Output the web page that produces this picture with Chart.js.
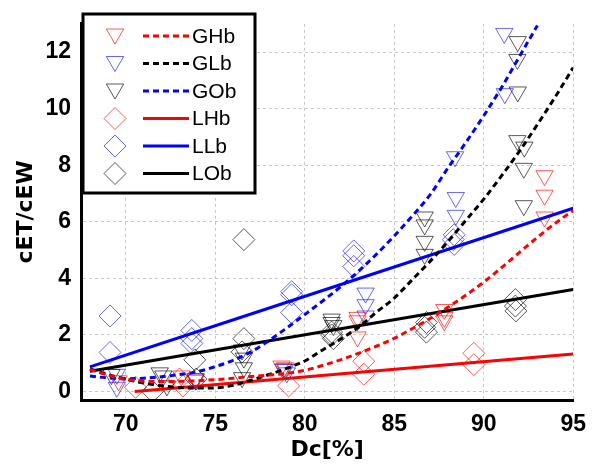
<!DOCTYPE html>
<html>
<head>
<meta charset="utf-8">
<script src="https://cdn.jsdelivr.net/npm/chart.js@4.4.1/dist/chart.umd.min.js"></script>
<style>
  html, body { margin: 0; padding: 0; background: #fff; }
  #contenedor { width: 597px; height: 464px; }
</style>
</head>
<body>
<div id="contenedor"><canvas id="grafico" width="597" height="464"></canvas></div>
<script>
// ticks de los ejes
const ticksX = [70, 75, 80, 85, 90, 95]
const ticksY = [0, 2, 4, 6, 8, 10, 12]

// mediciones [Dc, cET/cEW]
const puntosGHb = [[69.6,0.38],[73.1,0.55],[73.9,0.45],[78.7,0.9],[78.9,0.84],[82.95,2.62],[82.95,2.5],[82.95,1.93],
  [87.8,2.9],[87.8,2.62],[87.8,2.5],[93.4,7.63],[93.4,6.94],[93.4,6.17]]
const puntosGLb = [[69.5,0.61],[69.5,0.15],[73.9,0.4],[78.9,0.78],[79.0,0.66],[83.4,3.48],[83.4,3.07],[83.4,2.67],
  [88.4,8.3],[88.44,6.86],[88.44,6.23],[91.15,12.66],[91.18,10.53]]
const puntosGOb = [[69.2,0.6],[71.9,0.66],[72.1,0.55],[72.3,0.2],[73.9,0.45],[76.5,1.47],[76.6,1.18],[76.6,0.84],
  [76.5,0.49],[78.8,0.8],[81.5,2.56],[81.5,2.44],[81.6,2.33],[86.7,6.17],[86.7,5.89],[86.7,5.31],[86.7,4.85],
  [91.9,12.37],[91.88,11.74],[91.9,10.59],[91.88,8.87],[92.27,8.64],[92.24,7.89],[92.24,6.57]]
const puntosLHb = [[70.55,0.15],[73.0,0.44],[73.2,0.2],[79.1,0.2],[83.3,1.07],[83.3,0.61],[89.45,1.35],[89.45,0.95]]
const puntosLLb = [[69.12,2.67],[69.12,1.38],[73.69,2.16],[73.69,1.87],[73.69,1.7],[79.27,3.53],[79.27,3.42],[79.27,2.79],
  [82.74,4.97],[82.74,4.8],[82.74,4.42],[88.35,5.54],[88.3,5.37],[88.35,5.2]]
const puntosLOb = [[71.5,0.0],[73.86,1.12],[73.93,0.44],[76.6,5.37],[76.6,1.87],[76.5,1.4],[81.5,2.1],[81.6,1.87],[81.5,2.0],
  [86.8,2.44],[86.7,2.27],[86.8,2.1],[91.77,3.25],[91.77,3.02],[91.8,2.85]]

// curvas de ajuste
const curvaGHb = [[68,0.78],[69,0.58],[70,0.43],[71,0.37],[72,0.35],[73,0.36],[74,0.38],[75,0.42],[76,0.47],[77,0.53],
  [78,0.58],[79,0.64],[80,0.75],[81,0.92],[82,1.12],[83,1.35],[84,1.6],[85,1.88],[86,2.22],[87,2.58],[88,2.98],
  [89,3.4],[90,3.87],[91,4.38],[92,4.92],[93,5.45],[94,5.95],[95,6.4]]
const curvaGLb = [[68,0.8],[69,0.6],[70,0.44],[71,0.3],[72,0.2],[73,0.14],[74,0.12],[75,0.13],[76,0.22],[77,0.4],
  [78,0.6],[79,0.82],[80,1.08],[81,1.47],[82,1.85],[83,2.27],[84,2.8],[85,3.3],[86,3.95],[87,4.6],[88,5.3],
  [89,6.05],[90,6.8],[91,7.63],[92,8.5],[93,9.44],[94,10.42],[95,11.45]]
const curvaGOb = [[68,0.55],[69,0.48],[70,0.45],[71,0.47],[72,0.52],[73,0.6],[74,0.7],[75,0.88],[76,1.1],[77,1.4],
  [78,1.8],[79,2.25],[80,2.72],[81,3.2],[82,3.7],[83,4.25],[84,4.85],[85,5.5],[86,6.2],[87,6.95],[88,7.9],
  [89,8.8],[90,9.75],[91,10.75],[92,11.85],[93,12.94]]
const rectaLHb = [[70.5,0.0],[95,1.33]]
const rectaLLb = [[68,0.87],[95,6.48]]
const rectaLOb = [[68,0.72],[95,3.61]]

const rojo = '#ff0000', azul = '#0000ff', negro = '#000000'
const rojoClaro = 'rgba(255,0,0,0.65)', azulClaro = 'rgba(0,0,255,0.6)', gris = 'rgba(0,0,0,0.65)'
const guiones = [6, 4]

const aXY = (pares) => pares.map(([x, y]) => ({ x: x, y: y }))

const marca = (label, datos, color, forma) => ({
  label: label,
  data: aXY(datos),
  showLine: false,
  pointStyle: forma,
  pointRotation: forma === 'triangle' ? 180 : 0,
  pointRadius: forma === 'triangle' ? 10 : 11,
  pointBorderWidth: 1,
  pointBorderColor: color,
  pointBackgroundColor: 'rgba(0,0,0,0)',
})

const linea = (label, datos, color, discontinua) => ({
  label: label,
  data: aXY(datos),
  showLine: true,
  pointRadius: 0,
  borderColor: color,
  borderWidth: 3,
  borderDash: discontinua ? guiones : [],
  cubicInterpolationMode: 'monotone',
})

// filas de la leyenda: marca + linea
const filasLeyenda = [
  { texto: 'GHb', forma: 'triangle', colorMarca: rojoClaro, colorLinea: rojo, discontinua: true },
  { texto: 'GLb', forma: 'triangle', colorMarca: azulClaro, colorLinea: negro, discontinua: true },
  { texto: 'GOb', forma: 'triangle', colorMarca: gris, colorLinea: azul, discontinua: true },
  { texto: 'LHb', forma: 'rectRot', colorMarca: rojoClaro, colorLinea: rojo, discontinua: false },
  { texto: 'LLb', forma: 'rectRot', colorMarca: azulClaro, colorLinea: azul, discontinua: false },
  { texto: 'LOb', forma: 'rectRot', colorMarca: gris, colorLinea: negro, discontinua: false },
]

const leyenda = {
  id: 'leyenda',
  afterDraw(chart) {
    const ctx = chart.ctx
    ctx.save()
    ctx.fillStyle = '#fff'
    ctx.fillRect(83, 14, 172, 179)
    ctx.lineWidth = 3
    ctx.strokeStyle = '#000'
    ctx.setLineDash([])
    ctx.strokeRect(83, 14, 172, 179)

    filasLeyenda.forEach((f, i) => {
      const y = 36 + i * 27.5
      ctx.strokeStyle = f.colorMarca
      ctx.fillStyle = 'rgba(0,0,0,0)'
      ctx.lineWidth = 1
      ctx.setLineDash([])
      Chart.helpers.drawPoint(ctx, {
        pointStyle: f.forma,
        radius: f.forma === 'triangle' ? 10 : 11,
        rotation: f.forma === 'triangle' ? 180 : 0,
        borderWidth: 1,
      }, 115, f.forma === 'triangle' ? y - 2 : y)

      ctx.beginPath()
      ctx.strokeStyle = f.colorLinea
      ctx.lineWidth = 3
      ctx.setLineDash(f.discontinua ? guiones : [])
      ctx.moveTo(143, y)
      ctx.lineTo(189, y)
      ctx.stroke()

      ctx.setLineDash([])
      ctx.fillStyle = '#000'
      ctx.font = '21px "Liberation Sans", Arial, sans-serif'
      ctx.textAlign = 'left'
      ctx.textBaseline = 'middle'
      ctx.fillText(f.texto, 192, y + 1)
    })
    ctx.restore()
  }
}

const fuenteTicks = { family: '"Liberation Sans", Arial, sans-serif', size: 23, weight: 'bold' }
const fuenteTitulo = { family: '"DejaVu Sans", sans-serif', size: 22, weight: 'bold' }
const rejilla = { color: '#c8c8c8', lineWidth: 1, drawTicks: false }
const borde = { display: true, color: '#000', width: 3, dash: [3, 3] }

new Chart(document.getElementById('grafico'), {
  type: 'scatter',
  data: {
    datasets: [
      linea('GHb', curvaGHb, rojo, true),
      linea('GLb', curvaGLb, negro, true),
      linea('GOb', curvaGOb, azul, true),
      linea('LHb', rectaLHb, rojo, false),
      linea('LLb', rectaLLb, azul, false),
      linea('LOb', rectaLOb, negro, false),
      marca('GHb', puntosGHb, rojoClaro, 'triangle'),
      marca('GLb', puntosGLb, azulClaro, 'triangle'),
      marca('GOb', puntosGOb, gris, 'triangle'),
      marca('LHb', puntosLHb, rojoClaro, 'rectRot'),
      marca('LLb', puntosLLb, azulClaro, 'rectRot'),
      marca('LOb', puntosLOb, gris, 'rectRot'),
    ],
  },
  options: {
    responsive: false,
    animation: false,
    events: [],
    layout: { padding: { top: 13, right: 14, left: 0, bottom: 0 } },
    plugins: {
      legend: { display: false },
      tooltip: { enabled: false },
    },
    scales: {
      x: {
        type: 'linear',
        min: 67.5,
        max: 95,
        afterBuildTicks: (s) => { s.ticks = ticksX.map((v) => ({ value: v })) },
        afterFit: (s) => { s.height = 64 },
        grid: rejilla,
        border: borde,
        ticks: { color: '#000', font: fuenteTicks, padding: 11, maxRotation: 0 },
        title: { display: true, text: 'Dc[%]', color: '#000', font: fuenteTitulo, padding: { top: 0, bottom: 1 } },
      },
      y: {
        type: 'linear',
        min: -0.3,
        max: 13,
        afterBuildTicks: (s) => { s.ticks = ticksY.map((v) => ({ value: v })) },
        afterFit: (s) => { s.width = 81 },
        grid: rejilla,
        border: borde,
        ticks: { color: '#000', font: fuenteTicks, padding: 10 },
        title: { display: true, text: 'cET/cEW', color: '#000', font: fuenteTitulo, padding: { top: 13, bottom: 0 } },
      },
    },
  },
  plugins: [leyenda],
})
</script>
</body>
</html>
